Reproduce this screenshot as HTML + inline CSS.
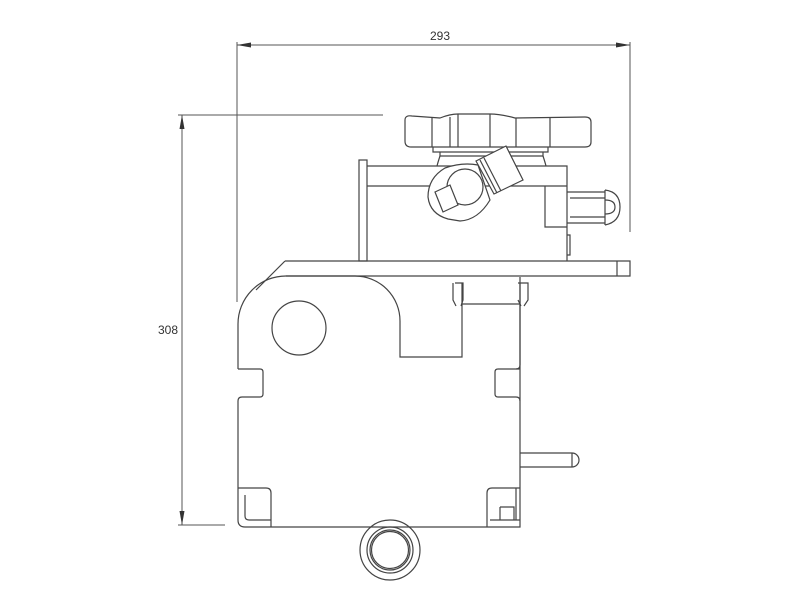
<!DOCTYPE html>
<html><head><style>body{margin:0;background:#fff}svg{display:block}</style></head><body>
<svg width="800" height="600" viewBox="0 0 800 600" xmlns="http://www.w3.org/2000/svg" fill="none" stroke="#444" stroke-width="1.2">
<g stroke="#555" stroke-width="1">
<line x1="237" y1="45" x2="630" y2="45"/>
<line x1="237" y1="42" x2="237" y2="302"/>
<line x1="630" y1="42" x2="630" y2="232"/>
<line x1="182" y1="115" x2="182" y2="525"/>
<line x1="178" y1="115" x2="383" y2="115"/>
<line x1="178" y1="525" x2="225" y2="525"/>
</g>
<g fill="#333" stroke="none">
<polygon points="237,45 251,42.5 251,47.5"/>
<polygon points="630,45 616,42.5 616,47.5"/>
<polygon points="182,115 179.5,129 184.5,129"/>
<polygon points="182,525 179.5,511 184.5,511"/>
</g>
<text x="440" y="40" font-family="Liberation Sans, sans-serif" font-size="12" fill="#333" stroke="none" text-anchor="middle">293</text>
<text x="168" y="334" font-family="Liberation Sans, sans-serif" font-size="12" fill="#333" stroke="none" text-anchor="middle">308</text>

<!-- plate -->
<path d="M285,261 L630,261 L630,276 L286,276"/>
<line x1="617" y1="261" x2="617" y2="276"/>
<path d="M285,261 L256,290"/>
<!-- main body -->
<path d="M238,369 L238,324 A48,48 0 0 1 286,276 L355,276 A45,45 0 0 1 400,321 L400,357 L462,357 L462,283"/>
<path d="M238,369 L260,369 Q263,369 263,372 L263,394 Q263,397 260,397 L242,397 Q238,397 238,401 L238,520 Q238,527 245,527 L520,527 L520,283"/>
<path d="M520,369 L498,369 Q495,369 495,372 L495,394 Q495,397 498,397 L516,397 Q520,397 520,401"/>
<path d="M520,277 L520,365 Q520,369 516,369"/>
<circle cx="299" cy="328" r="27"/>
<path d="M455,283 L463,283 L463,300 L461,306 M453,283 L453,300 L456,306"/>
<path d="M518,283 L528,283 L528,300 L524,306 M518,300 L521,306"/>
<line x1="462" y1="304" x2="520" y2="304"/>
<path d="M271,527 L271,493 Q271,488 266,488 L238,488"/>
<path d="M245,495 L245,516 Q245,520 249,520 L271,520"/>
<path d="M487,527 L487,493 Q487,488 492,488 L520,488"/>
<path d="M490,520 L520,520 M500,507 L514,507 L514,520 M500,507 L500,520 M516,488 L516,520"/>
<path d="M520,453 L572,453 A7,7 0 0 1 572,467 L520,467 M572,453 L572,467"/>
<circle cx="390" cy="550" r="30"/>
<circle cx="390" cy="550" r="23"/>
<circle cx="390" cy="550" r="20"/>
<circle cx="390" cy="550" r="18.5"/>
<!-- upper assembly -->
<rect x="359" y="160" width="8" height="101"/>
<path d="M367,166 L567,166 L567,261 M367,186 L545,186 M567,186 L545,186 L545,227 L567,227"/>
<path d="M567,235 L570,235 L570,255 L567,255"/>
<path d="M567,192 L605,192 M567,223 L605,223 M570,198 L605,198 M570,217 L605,217 M605,190 L605,225"/>
<path d="M605,190 Q620,192 620,207 Q620,222 605,225"/>
<path d="M605,200 Q615,200 615,207 Q615,214 605,214"/>
<path d="M405,120 Q405,115 412,116 L440,118 Q450,114 458,114 L490,114 Q500,114 515,118 L585,117 Q591,117 591,122 L591,142 Q591,147 585,147 L411,147 Q405,147 405,141 Z"/>
<path d="M432,118 L432,147 M450,117 L450,147 M458,114 L458,147 M490,114 L490,147 M516,118 L516,147 M550,118 L550,147"/>
<path d="M433,147 L433,152 L548,152 L548,147 M440,152 L440,156 L543,156 L543,152"/>
<path d="M440,156 Q438,162 437,166 M543,156 Q545,162 546,166"/>
<!-- eye lug -->
<path d="M445,168 Q428,178 428,197 Q430,214 448,219 L460,221 Q478,220 490,200 L478,165 Q462,162 445,168 Z" fill="#fff"/>
<circle cx="465" cy="187" r="18" fill="#fff"/>
<polygon points="435,192 450,185 458,205 443,212" fill="#fff"/>
<polygon points="476,161 506,146 523,180 494,194" fill="#fff"/>
<line x1="480" y1="160" x2="497" y2="193"/>
<line x1="484" y1="158" x2="501" y2="191"/>
</svg>
</body></html>
